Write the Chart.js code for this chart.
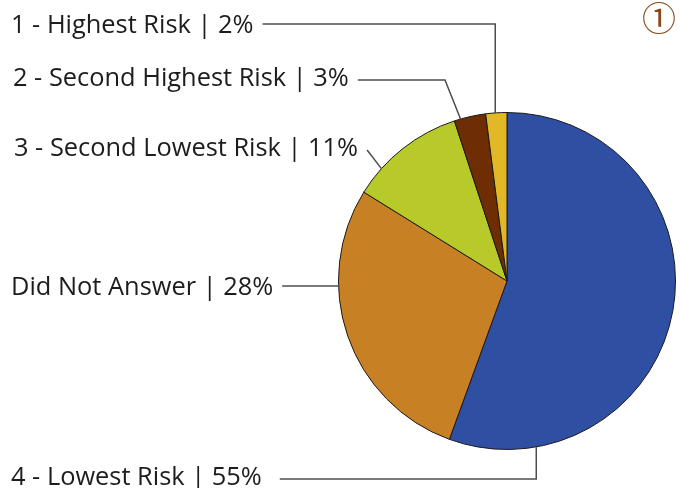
<!DOCTYPE html>
<html>
<head>
<meta charset="utf-8">
<script src="https://cdn.jsdelivr.net/npm/chart.js@4.4.1/dist/chart.umd.min.js"></script>
<style>
  html, body { margin: 0; padding: 0; background: #fff; }
  #wrap { width: 680px; height: 488px; position: relative; }
</style>
</head>
<body>
<div id="wrap"><canvas id="riskPie" width="680" height="488"></canvas></div>
<script>
// slices clockwise from 12 o'clock
const categories = ['4 - Lowest Risk', 'Did Not Answer', '3 - Second Lowest Risk', '2 - Second Highest Risk', '1 - Highest Risk'];
const shares = [55, 28, 11, 3, 2];
const sliceColors = ['#2f4fa3', '#c88024', '#b8ca2a', '#6e2d02', '#e3b826'];

const LABEL_FONT = '25.4px "Open Sans"';
const LINE_COLOR = '#4d4d4d';

// where each callout text sits and how its leader line bends toward the slice
const callouts = [
  { idx: 4, x: 11, y: 33, lineY: 24, frac: 0.45, kind: 'down' },
  { idx: 3, x: 13, y: 86, lineY: 80, frac: 0.2, kind: 'elbow', elbowX: 445 },
  { idx: 2, x: 14, y: 156, lineY: 150, frac: 0.25, kind: 'diag' },
  { idx: 1, x: 11, y: 295, lineY: 286, kind: 'flat' },
  { idx: 0, x: 11, y: 485, lineY: 479, frac: 0.85, kind: 'up', gap: 18 }
];

const calloutPlugin = {
  id: 'callouts',
  afterDraw(chart) {
    const ctx = chart.ctx;
    const meta = chart.getDatasetMeta(0);
    ctx.save();
    ctx.font = LABEL_FONT;
    ctx.textBaseline = 'alphabetic';
    ctx.fillStyle = '#1d1d1d';
    ctx.strokeStyle = LINE_COLOR;
    ctx.lineWidth = 1.5;
    callouts.forEach(c => {
      const arc = meta.data[c.idx];
      const p = arc.getProps(['x', 'y', 'outerRadius', 'startAngle', 'endAngle'], true);
      const text = categories[c.idx] + ' | ' + shares[c.idx] + '%';
      ctx.fillText(text, c.x, c.y);
      const startX = c.x + ctx.measureText(text).width + (c.gap || 9);
      ctx.beginPath();
      if (c.kind === 'flat') {
        const dy = c.lineY - p.y;
        const edgeX = p.x - Math.sqrt(p.outerRadius * p.outerRadius - dy * dy);
        ctx.moveTo(startX, c.lineY);
        ctx.lineTo(edgeX, c.lineY);
      } else {
        const a = p.startAngle + c.frac * (p.endAngle - p.startAngle);
        const ax = p.x + p.outerRadius * Math.cos(a);
        const ay = p.y + p.outerRadius * Math.sin(a);
        ctx.moveTo(startX, c.lineY);
        if (c.kind === 'down' || c.kind === 'up') {
          ctx.lineTo(ax, c.lineY);
        } else if (c.kind === 'elbow') {
          ctx.lineTo(c.elbowX, c.lineY);
        }
        ctx.lineTo(ax, ay);
      }
      ctx.stroke();
    });

    // page marker in the corner
    ctx.fillStyle = '#8a4716';
    ctx.font = '34px "Noto Sans CJK JP"';
    ctx.textAlign = 'center';
    ctx.textBaseline = 'middle';
    ctx.fillText('\u2460', 659, 18);
    ctx.restore();
  }
};

new Chart(document.getElementById('riskPie'), {
  type: 'pie',
  data: {
    labels: categories,
    datasets: [{
      data: shares,
      backgroundColor: sliceColors,
      borderColor: '#1a1a1a',
      borderWidth: 1
    }]
  },
  options: {
    responsive: false,
    animation: false,
    layout: { padding: { left: 338, right: 4, top: 112, bottom: 38 } },
    plugins: {
      legend: { display: false },
      tooltip: { enabled: false }
    }
  },
  plugins: [calloutPlugin]
});
</script>
</body>
</html>
